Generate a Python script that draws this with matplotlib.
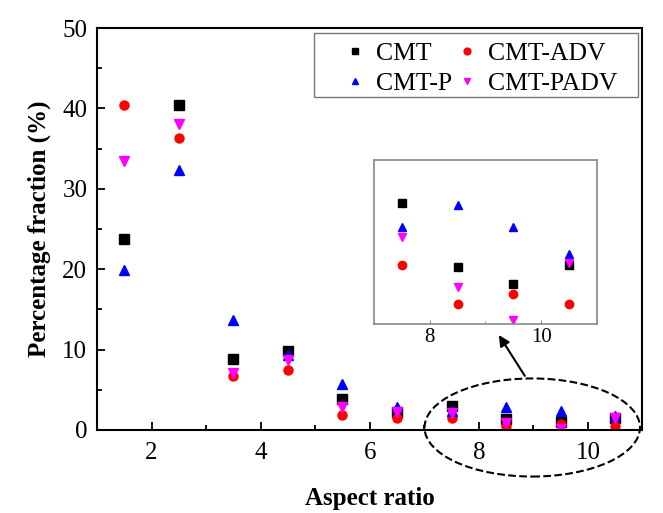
import matplotlib
matplotlib.use("Agg")
import matplotlib.pyplot as plt
from matplotlib.patches import Ellipse, Rectangle
from matplotlib.ticker import MultipleLocator

plt.rcParams['font.family'] = ['Liberation Serif', 'DejaVu Serif']

aspect = [1.5, 2.5, 3.5, 4.5, 5.5, 6.5, 7.5, 8.5, 9.5, 10.5]
cmt = [23.7, 40.4, 8.8, 9.8, 3.8, 2.3, 2.96, 1.40, 0.98, 1.45]
cmt_adv = [40.4, 36.3, 6.75, 7.45, 1.86, 1.5, 1.45, 0.48, 0.72, 0.48]
cmt_p = [19.85, 32.4, 13.65, 9.3, 5.7, 2.9, 2.37, 2.90, 2.37, 1.71]
cmt_padv = [33.4, 38.1, 7.05, 8.7, 2.9, 2.3, 2.13, 0.91, 0.10, 1.48]

series = [
    ("CMT", cmt, "s", "black"),
    ("CMT-ADV", cmt_adv, "o", "red"),
    ("CMT-P", cmt_p, "^", "blue"),
    ("CMT-PADV", cmt_padv, "v", "magenta"),
]

fig = plt.figure(figsize=(6.63, 5.13), dpi=100)
ax = fig.add_axes([0.1463, 0.1618, 0.8227, 0.7836])

handles = {}
for name, vals, mk, col in series:
    h, = ax.plot(aspect, vals, linestyle='none', marker=mk, color=col,
                 markersize=6.5, label=name)
    handles[name] = h

ax.set_xlim(1, 11)
ax.set_ylim(0, 50)
ax.xaxis.set_major_locator(MultipleLocator(2))
ax.xaxis.set_minor_locator(MultipleLocator(1))
ax.yaxis.set_major_locator(MultipleLocator(10))
ax.yaxis.set_minor_locator(MultipleLocator(5))
ax.tick_params(which='both', direction='in', top=False, right=False,
               labelsize=18, width=1.3)
ax.tick_params(which='major', length=6)
ax.tick_params(which='minor', length=3.5)
ax.tick_params(axis='x', which='major', pad=9)
ax.tick_params(axis='y', which='major', pad=7)
for s in ax.spines.values():
    s.set_linewidth(1.5)
ax.set_xlabel("Aspect ratio", fontsize=18, fontweight='bold', labelpad=16)
ax.set_ylabel("Percentage fraction (%)", fontsize=18, fontweight='bold', labelpad=8)

order = ["CMT", "CMT-P", "CMT-ADV", "CMT-PADV"]
leg = ax.legend([handles[n] for n in order], order, ncol=2, loc='upper left',
                bbox_to_anchor=(0.4355, 0.966), fontsize=18.5, frameon=False,
                markerscale=0.75, handletextpad=0.0, columnspacing=-0.2,
                handlelength=1.6, borderpad=0.0, labelspacing=0.3,
                borderaxespad=0.0)
ax.add_patch(Rectangle((0.398, 0.828), 0.594, 0.1596, transform=ax.transAxes,
                       fill=False, edgecolor='#777777', linewidth=1.0,
                       zorder=6))

ell = Ellipse((8.98, 0.31), 3.95, 12.2, fill=False, linestyle='--',
              edgecolor='black', linewidth=1.5, clip_on=False, zorder=5)
ax.add_patch(ell)
ax.annotate("", xy=(8.34, 12.1), xytext=(8.87, 6.45),
            arrowprops=dict(arrowstyle='-|>', color='black', lw=1.5,
                            mutation_scale=16), annotation_clip=False)

ins = fig.add_axes([0.564, 0.3684, 0.3364, 0.3197])
for name, vals, mk, col in series:
    ins.plot(aspect, vals, linestyle='none', marker=mk, color=col, markersize=6)
ins.set_xlim(7, 11)
ins.set_ylim(0, 4)
ins.xaxis.set_major_locator(MultipleLocator(2))
ins.xaxis.set_minor_locator(MultipleLocator(1))
ins.set_yticks([])
ins.tick_params(which='both', direction='in', top=False, right=False,
                labelsize=15, color='#888888', pad=3)
ins.tick_params(which='major', length=3)
ins.tick_params(which='minor', length=2)
for s in ins.spines.values():
    s.set_color('#888888')
    s.set_linewidth(1.2)

fig.savefig("out.png", dpi=100)
